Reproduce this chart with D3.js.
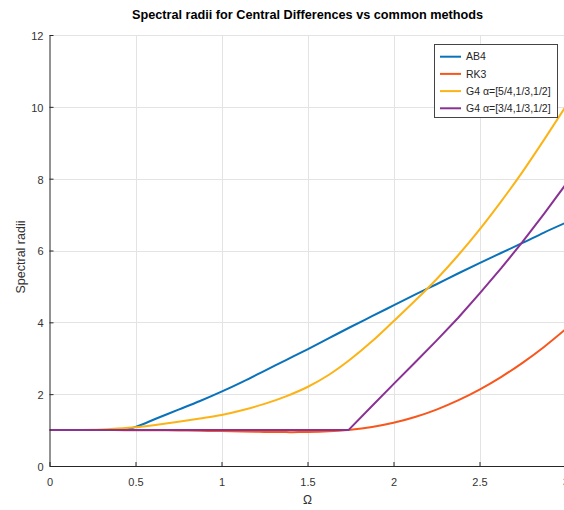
<!DOCTYPE html>
<html><head><meta charset="utf-8">
<script src="https://cdn.jsdelivr.net/npm/d3@7"></script>
<style>
body{margin:0;background:#fff;overflow:hidden}
svg{display:block}
text{font-family:"Liberation Sans",Arial,Helvetica,sans-serif}
</style>
</head><body>
<svg id="chart" width="564" height="510"></svg>
<script>
// ---- data ----
const xTicks = [0, 0.5, 1, 1.5, 2, 2.5, 3];
const yTicks = [0, 2, 4, 6, 8, 10, 12];
const seriesNames = ["AB4", "RK3", "G4 α=[5/4,1/3,1/2]", "G4 α=[3/4,1/3,1/2]"];
const seriesColors = ["#0a72ba", "#f8561c", "#fcb316", "#8a3294"];

const ab4Omega = [0, 0.25, 0.43, 0.5, 0.625, 0.75, 0.875, 1, 1.125, 1.25, 1.375, 1.5, 1.625, 1.75, 1.875, 2, 2.125, 2.25, 2.375, 2.5, 2.625, 2.75, 2.875, 3];
const ab4Rho   = [1, 1, 1, 1.09, 1.33, 1.57, 1.81, 2.07, 2.35, 2.65, 2.95, 3.25, 3.56, 3.87, 4.17, 4.47, 4.77, 5.06, 5.36, 5.65, 5.93, 6.21, 6.50, 6.77];

const rk3Omega = [0, 0.125, 0.25, 0.375, 0.5, 0.625, 0.75, 0.875, 1, 1.125, 1.25, 1.375, 1.414, 1.5, 1.625, 1.732, 1.75, 1.875, 2, 2.125, 2.25, 2.375, 2.5, 2.625, 2.75, 2.875, 3];
const rk3Rho   = [1, 1, 0.9998, 0.9992, 0.9976, 0.9944, 0.9892, 0.9816, 0.9718, 0.9606, 0.95, 0.9433, 0.9428, 0.9458, 0.9646, 1.0, 1.0081, 1.0849, 1.2019, 1.3633, 1.5711, 1.8259, 2.1277, 2.4762, 2.872, 3.3156, 3.8079];

const g4aOmega = [0, 0.125, 0.25, 0.375, 0.5, 0.625, 0.75, 0.875, 1, 1.125, 1.25, 1.375, 1.5, 1.625, 1.75, 1.875, 2, 2.125, 2.25, 2.375, 2.5, 2.625, 2.75, 2.875, 3];
const g4aRho   = [1, 1, 1.01, 1.04, 1.08, 1.15, 1.23, 1.32, 1.42, 1.56, 1.73, 1.94, 2.20, 2.54, 2.97, 3.47, 4.03, 4.60, 5.20, 5.86, 6.58, 7.36, 8.19, 9.08, 10.0];

const g4bOmega = [0, 1.738, 1.875, 2, 2.125, 2.25, 2.375, 2.5, 2.625, 2.75, 2.875, 3];
const g4bRho   = [1, 1, 1.67, 2.28, 2.88, 3.49, 4.12, 4.80, 5.50, 6.24, 7.02, 7.83];

// ---- layout ----
const svg = d3.select("#chart");
const L = 49.5, R = 565.5, T = 35, B = 466;
const x = d3.scaleLinear().domain([0, 3]).range([L, R]);
const y = d3.scaleLinear().domain([0, 12]).range([B, T]);
const axisColor = "#262626";

svg.append("rect").attr("width", 564).attr("height", 510).attr("fill", "#fff");

// grid
const grid = svg.append("g").attr("stroke", "#e3e3e3").attr("stroke-width", 1);
xTicks.filter(d => d > 0).forEach(d => {
  grid.append("line").attr("x1", Math.round(x(d)) + 0.5).attr("x2", Math.round(x(d)) + 0.5).attr("y1", T).attr("y2", B);
});
yTicks.filter(d => d > 0).forEach(d => {
  grid.append("line").attr("x1", L).attr("x2", R).attr("y1", Math.round(y(d)) + 0.5).attr("y2", Math.round(y(d)) + 0.5);
});

// lines
svg.append("clipPath").attr("id", "clip").append("rect").attr("x", L).attr("y", T - 2).attr("width", R - L).attr("height", B - T + 2);
const series = [
  {omega: ab4Omega, rho: ab4Rho, curve: d3.curveMonotoneX},
  {omega: rk3Omega, rho: rk3Rho, curve: d3.curveMonotoneX},
  {omega: g4aOmega, rho: g4aRho, curve: d3.curveMonotoneX},
  {omega: g4bOmega, rho: g4bRho, curve: d3.curveLinear}
];
const lines = svg.append("g").attr("clip-path", "url(#clip)");
series.forEach((s, i) => {
  const pts = s.omega.map((o, k) => [o, s.rho[k]]);
  const gen = d3.line().x(d => x(d[0])).y(d => y(d[1])).curve(s.curve);
  lines.append("path").attr("d", gen(pts)).attr("fill", "none")
    .attr("stroke", seriesColors[i]).attr("stroke-width", 2).attr("stroke-linejoin", "round");
});

// axes
const xAxis = d3.axisBottom(x).tickValues(xTicks).tickFormat(d3.format("~g")).tickSizeInner(-4).tickSizeOuter(0).tickPadding(12);
const yAxis = d3.axisLeft(y).tickValues(yTicks).tickFormat(d3.format("~g")).tickSizeInner(-4).tickSizeOuter(0).tickPadding(6);
const gx = svg.append("g").attr("transform", `translate(0,${B})`).call(xAxis);
const gy = svg.append("g").attr("transform", `translate(${L},0)`).call(yAxis);
[gx, gy].forEach(g => {
  g.selectAll("path,line").attr("stroke", axisColor).attr("stroke-width", 1);
  g.selectAll("text").attr("fill", "#333").style("font-size", "11px").style("font-family", '"Liberation Sans",Arial,sans-serif');
});
gy.selectAll("text").attr("dy", "0.4em");

// labels
svg.append("text").attr("x", (L + R) / 2).attr("y", 16).attr("text-anchor", "middle").attr("dominant-baseline", "middle")
  .style("font-size", "12.7px").style("font-weight", "bold").attr("fill", "#000")
  .text("Spectral radii for Central Differences vs common methods");
svg.append("text").attr("x", (L + R) / 2).attr("y", 504).attr("text-anchor", "middle")
  .style("font-size", "12px").attr("fill", "#333").text("Ω");
svg.append("text").attr("transform", "translate(25,257) rotate(-90)").attr("text-anchor", "middle")
  .style("font-size", "12.5px").attr("fill", "#333").text("Spectral radii");

// legend
const lg = svg.append("g");
lg.append("rect").attr("x", 434.5).attr("y", 44.5).attr("width", 123).attr("height", 73)
  .attr("fill", "#fff").attr("stroke", "#444").attr("stroke-width", 1);
seriesNames.forEach((n, i) => {
  const cy = 56.7 + i * 17.2;
  lg.append("line").attr("x1", 440).attr("x2", 461).attr("y1", cy).attr("y2", cy)
    .attr("stroke", seriesColors[i]).attr("stroke-width", 2);
  lg.append("text").attr("x", 466).attr("y", cy).attr("dy", "0.35em")
    .style("font-size", "10.5px").attr("fill", "#262626").text(n);
});
</script>
</body></html>
